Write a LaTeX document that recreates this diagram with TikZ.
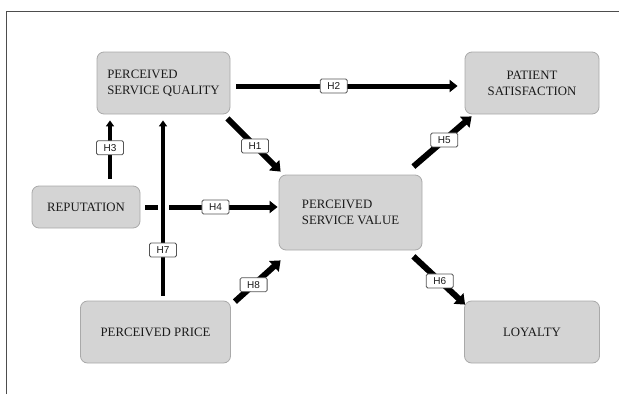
\documentclass[tikz,border=0pt]{standalone}
\usepackage{fontspec}
\setmainfont{Liberation Serif}
\newfontfamily\labfont{Liberation Sans}
\usetikzlibrary{arrows.meta}
\definecolor{boxfill}{HTML}{D4D4D4}
\definecolor{boxline}{HTML}{A9A9A9}
\definecolor{textcol}{HTML}{1A1A1A}
\definecolor{lablinecol}{HTML}{555555}
\definecolor{framecol}{HTML}{4D4D4D}
\begin{document}
\begin{tikzpicture}[x=1pt,y=-1pt,
  box/.style={draw=boxline, fill=boxfill, rounded corners=7pt, line width=0.8pt,
    font=\fontsize{12.8}{16}\selectfont, text=textcol, inner sep=0pt},
  hlab/.style={draw=lablinecol, fill=white, rounded corners=1.5pt, line width=0.8pt,
    font=\labfont\fontsize{10}{11}\selectfont, minimum width=27pt, minimum height=14pt,
    inner sep=0pt, text=textcol},
  arr/.style={line width=5pt, -{Triangle[length=8pt,width=12pt]}},
  thinarr/.style={line width=4pt, -{Triangle[length=6pt,width=8pt]}},
  diagarr/.style={line width=6pt, -{Triangle[length=9pt,width=14pt]}},
]
\useasboundingbox (0,0) rectangle (619,394);
\draw[framecol, line width=0.9pt] (6,394) -- (6,11) -- (619,11);

\node[box, minimum width=133pt, minimum height=62pt, align=left] (psq) at (163.5,83) {PERCEIVED\\SERVICE QUALITY};
\node[box, minimum width=134pt, minimum height=62pt, align=center] (ps) at (532,83) {PATIENT\\SATISFACTION};
\node[box, minimum width=108pt, minimum height=42pt] (rep) at (86,207) {REPUTATION};
\node[box, minimum width=143pt, minimum height=75pt, align=left] (psv) at (350.5,212.5) {PERCEIVED\\SERVICE VALUE};
\node[box, minimum width=150pt, minimum height=62pt] (pp) at (155.5,332) {PERCEIVED PRICE};
\node[box, minimum width=135pt, minimum height=62pt] (loy) at (532,332) {LOYALTY};

\draw[arr] ([xshift=6pt,yshift=-3pt]psq.east) -- node[hlab, pos=0.44]{H2} ([xshift=-7pt,yshift=-3pt]ps.west);
\draw[diagarr] ([xshift=-3pt,yshift=-4pt]psq.south east) -- node[hlab, pos=0.52]{H1} ([xshift=2pt,yshift=3pt]psv.north west);
\draw[thinarr] ([xshift=24pt,yshift=7pt]rep.north) -- node[hlab, pos=0.53]{H3} ([xshift=-53.5pt,yshift=-6pt]psq.south);
\draw[arr] ([xshift=5pt]rep.east) -- node[hlab, pos=0.53]{H4} ([xshift=-1pt,yshift=5.5pt]psv.west);
\draw[thinarr, preaction={draw=white, line width=11pt, arrows=-}] ([xshift=7.5pt,yshift=5pt]pp.north) -- node[hlab, pos=0.26]{H7} ([xshift=-0.5pt,yshift=-6pt]psq.south);
\draw[diagarr] ([xshift=-9pt,yshift=8pt]psv.north east) -- node[hlab, pos=0.53]{H5} ([xshift=7pt,yshift=-2pt]ps.south west);
\draw[diagarr] ([xshift=-9pt,yshift=-6pt]psv.south east) -- node[hlab, pos=0.51]{H6} ([xshift=1pt,yshift=-4pt]loy.north west);
\draw[diagarr] ([xshift=4pt,yshift=-1pt]pp.north east) -- node[hlab, pos=0.41]{H8} ([xshift=2pt,yshift=-10pt]psv.south west);
\end{tikzpicture}
\end{document}
